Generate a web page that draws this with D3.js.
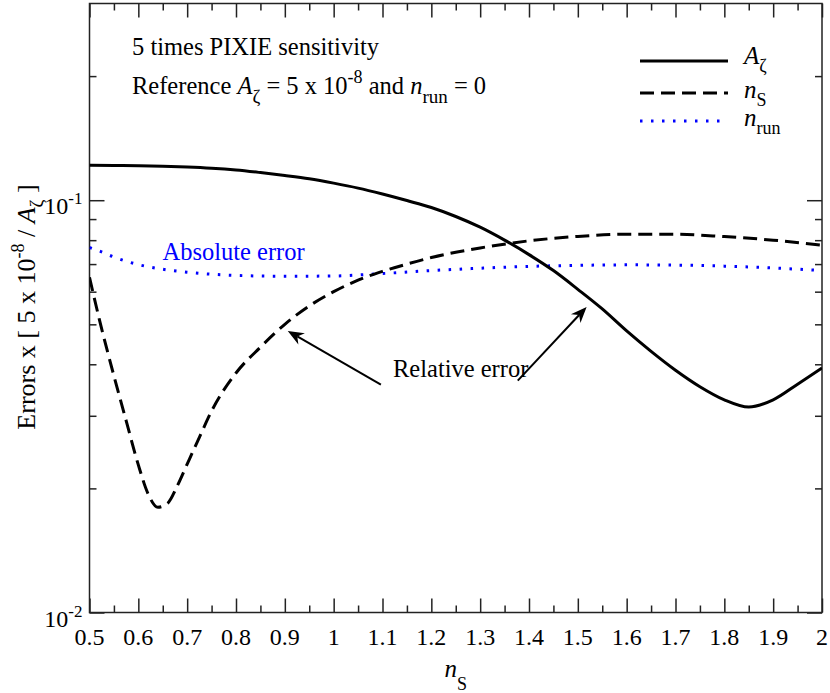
<!DOCTYPE html>
<html><head><meta charset="utf-8">
<script src="https://cdn.jsdelivr.net/npm/d3@7/dist/d3.min.js"></script>
<style>
body{margin:0;background:#fff}
</style>
</head><body>
<svg id="c" width="830" height="693"></svg>
<script>
// ---- data ----
const xMajorTicks = [0.5,0.6,0.7,0.8,0.9,1.0,1.1,1.2,1.3,1.4,1.5,1.6,1.7,1.8,1.9,2.0];
const xTickLabels = ["0.5","0.6","0.7","0.8","0.9","1","1.1","1.2","1.3","1.4","1.5","1.6","1.7","1.8","1.9","2"];
const xMinorTicks = [0.55,0.65,0.75,0.85,0.95,1.05,1.15,1.25,1.35,1.45,1.55,1.65,1.75,1.85,1.95];
const yMajorTicks = [0.01,0.1];
const yTickExps = ["-2","-1"];
const yMinorTicks = [0.02,0.03,0.04,0.05,0.06,0.07,0.08,0.09,0.2];

const aZetaX = [0.50,0.55,0.60,0.65,0.70,0.75,0.80,0.85,0.90,0.95,1.00,1.05,1.10,1.15,1.20,1.25,1.30,1.35,1.40,1.45,1.50,1.55,1.60,1.65,1.70,1.75,1.80,1.85,1.90,1.95,2.00];
const aZetaY = [0.1215,0.1214,0.1212,0.1209,0.1204,0.1196,0.1184,0.1167,0.1148,0.1127,0.1100,0.1070,0.1035,0.0998,0.0960,0.0913,0.0860,0.0800,0.0738,0.0675,0.0608,0.0545,0.0482,0.0430,0.0387,0.0353,0.0328,0.0315,0.0328,0.0358,0.0392];

const nsX = [0.50,0.52,0.55,0.575,0.60,0.62,0.64,0.66,0.68,0.70,0.725,0.75,0.80,0.85,0.90,0.95,1.00,1.05,1.10,1.15,1.20,1.30,1.40,1.50,1.60,1.70,1.80,1.90,2.00];
const nsY = [0.0650,0.0515,0.0375,0.0292,0.0228,0.0194,0.0180,0.0184,0.0203,0.0229,0.0266,0.0308,0.0381,0.0440,0.0500,0.0554,0.0600,0.0640,0.0672,0.0700,0.0726,0.0766,0.0797,0.0817,0.0827,0.0827,0.0816,0.0800,0.0778];

const nrunX = [0.50,0.52,0.55,0.60,0.65,0.70,0.80,0.90,1.00,1.10,1.20,1.30,1.40,1.50,1.60,1.70,1.80,1.90,2.00];
const nrunY = [0.0768,0.0753,0.0728,0.0698,0.0680,0.0669,0.0657,0.0654,0.0655,0.0664,0.0675,0.0684,0.0691,0.0695,0.0697,0.0696,0.0692,0.0685,0.0675];

// ---- layout ----
const L = 89.5, R = 822, T = 3.5, B = 612.5;
const FONT = '"Liberation Serif"';
const svg = d3.select("#c");
const x = d3.scaleLinear().domain([0.5, 2.0]).range([L, R]);
const y = d3.scaleLog().domain([0.01, 0.3]).range([B, T]);

const AX = "#222";

function txt(sel, px, py, size) {
  return sel.append("text").attr("x", px).attr("y", py).attr("font-size", size)
    .style("font-family", FONT).style("fill", "#000");
}

function tickAxis(axisFn, scale, ticks, size, transform) {
  const g = svg.append("g").attr("transform", transform)
    .call(axisFn(scale).tickValues(ticks).tickSize(size).tickFormat(""));
  g.select(".domain").remove();
  g.selectAll(".tick line").attr("stroke", AX).attr("stroke-width", 1.5);
}
tickAxis(d3.axisBottom, x, xMajorTicks, -14, `translate(0,${B})`);
tickAxis(d3.axisBottom, x, xMinorTicks, -7, `translate(0,${B})`);
tickAxis(d3.axisTop, x, xMajorTicks, -14, `translate(0,${T})`);
tickAxis(d3.axisTop, x, xMinorTicks, -7, `translate(0,${T})`);
tickAxis(d3.axisLeft, y, yMajorTicks, -15, `translate(${L},0)`);
tickAxis(d3.axisLeft, y, yMinorTicks, -7, `translate(${L},0)`);
tickAxis(d3.axisRight, y, yMajorTicks, -15, `translate(${R},0)`);
tickAxis(d3.axisRight, y, yMinorTicks, -7, `translate(${R},0)`);

svg.append("rect").attr("x", L).attr("y", T).attr("width", R - L).attr("height", B - T)
  .attr("fill", "none").attr("stroke", AX).attr("stroke-width", 1.5);

// x tick labels
xMajorTicks.forEach((v, i) => {
  txt(svg, x(v), B + 32, 24).attr("text-anchor", "middle").text(xTickLabels[i]);
});

// y tick labels 10^n
yMajorTicks.forEach((v, i) => {
  const t = txt(svg, L - 7, y(v) + 14, 24).attr("text-anchor", "end");
  t.append("tspan").text("10");
  t.append("tspan").attr("dy", -10).attr("font-size", 17).text(yTickExps[i]);
});

// axis titles
const xl = txt(svg, (L + R) / 2, 677, 25).attr("text-anchor", "middle");
xl.append("tspan").attr("font-style", "italic").text("n");
xl.append("tspan").attr("dy", 13).attr("font-size", 18).text("S");

const yl = txt(svg, 0, 0, 26).attr("transform", `translate(35,307) rotate(-90)`)
  .attr("text-anchor", "middle");
yl.append("tspan").text("Errors x [ 5 x 10");
yl.append("tspan").attr("dy", -11).attr("font-size", 18).text("-8");
yl.append("tspan").attr("dy", 11).text(" / ");
yl.append("tspan").attr("font-style", "italic").text("A");
yl.append("tspan").attr("dy", 8).attr("font-size", 19).text("ζ");
yl.append("tspan").attr("dy", -8).text(" ]");

// curves
svg.append("clipPath").attr("id", "clip").append("rect")
  .attr("x", L).attr("y", T).attr("width", R - L).attr("height", B - T);
const line = d3.line().x(d => x(d[0])).y(d => y(d[1])).curve(d3.curveMonotoneX);
const plotG = svg.append("g").attr("clip-path", "url(#clip)");
plotG.append("path").datum(nrunX.map((v, i) => [v, nrunY[i]])).attr("d", line)
  .attr("fill", "none").attr("stroke", "#0000ff").attr("stroke-width", 3).attr("stroke-dasharray", "2.5,8.5");
plotG.append("path").datum(nsX.map((v, i) => [v, nsY[i]])).attr("d", line)
  .attr("fill", "none").attr("stroke", "#000").attr("stroke-width", 3).attr("stroke-dasharray", "14,7");
plotG.append("path").datum(aZetaX.map((v, i) => [v, aZetaY[i]])).attr("d", line)
  .attr("fill", "none").attr("stroke", "#000").attr("stroke-width", 3);

// legend
const legX0 = 640, legX1 = 728, legT = 744;
const legRows = [
  {y: 61, dash: null, color: "#000", main: "A", sub: "ζ", dy: 3},
  {y: 93, dash: "14,7", color: "#000", main: "n", sub: "S", dy: 5},
  {y: 121, dash: "2.5,8.5", color: "#0000ff", main: "n", sub: "run", dy: 5}
];
legRows.forEach(r => {
  svg.append("line").attr("x1", legX0).attr("x2", legX1).attr("y1", r.y).attr("y2", r.y)
    .attr("stroke", r.color).attr("stroke-width", 3).attr("stroke-dasharray", r.dash);
  const t = txt(svg, legT, r.y + r.dy, 25);
  t.append("tspan").attr("font-style", "italic").text(r.main);
  t.append("tspan").attr("dy", 8).attr("font-size", 18).text(r.sub);
});

// top-left notes
txt(svg, 132, 55, 24.5).text("5 times PIXIE sensitivity");
const ref = txt(svg, 132, 94, 24.5);
ref.append("tspan").text("Reference ");
ref.append("tspan").attr("font-style", "italic").text("A");
ref.append("tspan").attr("dy", 9).attr("font-size", 19).text("ζ");
ref.append("tspan").attr("dy", -9).text(" = 5 x 10");
ref.append("tspan").attr("dy", -11).attr("font-size", 18).text("-8");
ref.append("tspan").attr("dy", 11).text(" and ");
ref.append("tspan").attr("font-style", "italic").text("n");
ref.append("tspan").attr("dy", 9).attr("font-size", 19).text("run");
ref.append("tspan").attr("dy", -9).text(" = 0");

// annotations (data coordinates)
txt(svg, x(0.6495), y(0.0717), 24.5).style("fill", "#0000ff").text("Absolute error");
txt(svg, x(1.1215), y(0.0372), 24.5).text("Relative error");

const arrows = [
  {x0: 1.0967, y0: 0.0357, x1: 0.906, y1: 0.0482},
  {x0: 1.377, y0: 0.0365, x1: 1.518, y1: 0.0551}
];
arrows.forEach(a => {
  const X0 = x(a.x0), Y0 = y(a.y0), X1 = x(a.x1), Y1 = y(a.y1);
  const ang = Math.atan2(Y1 - Y0, X1 - X0);
  const len = 16, w = 6.5, notch = 11;
  const ux = Math.cos(ang), uy = Math.sin(ang);
  const bx = X1 - ux * len, by = Y1 - uy * len;
  const nx = X1 - ux * notch, ny = Y1 - uy * notch;
  svg.append("line").attr("x1", X0).attr("y1", Y0).attr("x2", nx).attr("y2", ny)
    .attr("stroke", "#000").attr("stroke-width", 2);
  const p = d3.path();
  p.moveTo(X1, Y1);
  p.lineTo(bx - uy * w, by + ux * w);
  p.lineTo(nx, ny);
  p.lineTo(bx + uy * w, by - ux * w);
  p.closePath();
  svg.append("path").attr("d", p.toString()).attr("fill", "#000");
});
</script>
</body></html>
